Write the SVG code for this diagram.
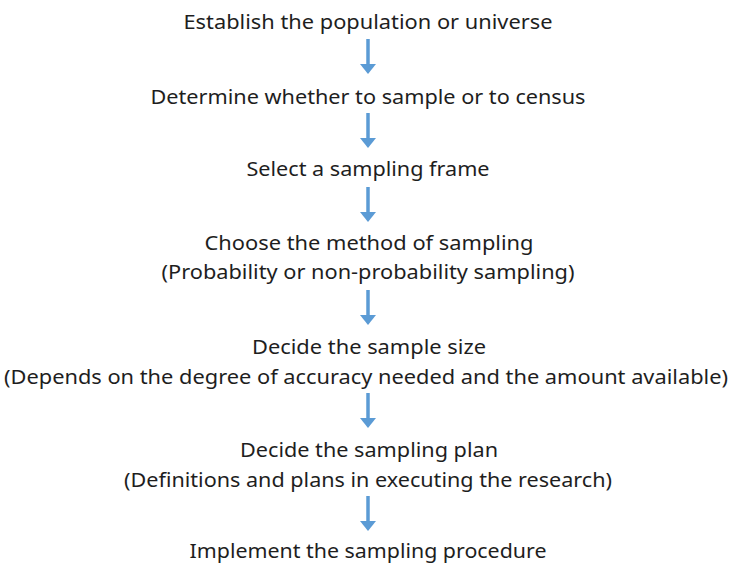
<svg xmlns="http://www.w3.org/2000/svg" width="731" height="564" viewBox="0 0 731 564">
<defs>
<style>
text{font-family:"Noto Sans","Liberation Sans",sans-serif;font-size:20px;fill:#1e1e1e;text-anchor:middle}
.c line{stroke:#5B9BD5;stroke-width:3.5}
.c path{fill:#5B9BD5}
</style>
</defs>
<rect width="731" height="564" fill="#fff"/>
<g id="n1"><text x="368" y="29" textLength="369" lengthAdjust="spacingAndGlyphs">Establish the population or universe</text></g>
<g id="n2"><text x="368" y="104" textLength="435" lengthAdjust="spacingAndGlyphs">Determine whether to sample or to census</text></g>
<g id="n3"><text x="368" y="176" textLength="243" lengthAdjust="spacingAndGlyphs">Select a sampling frame</text></g>
<g id="n4"><text x="369" y="250" textLength="329" lengthAdjust="spacingAndGlyphs">Choose the method of sampling</text>
<text x="368" y="279" textLength="413" lengthAdjust="spacingAndGlyphs">(Probability or non-probability sampling)</text></g>
<g id="n5"><text x="369" y="354" textLength="234" lengthAdjust="spacingAndGlyphs">Decide the sample size</text>
<text x="366" y="384" textLength="724" lengthAdjust="spacingAndGlyphs">(Depends on the degree of accuracy needed and the amount available)</text></g>
<g id="n6"><text x="369" y="457" textLength="258" lengthAdjust="spacingAndGlyphs">Decide the sampling plan</text>
<text x="368" y="487" textLength="488" lengthAdjust="spacingAndGlyphs">(Definitions and plans in executing the research)</text></g>
<g id="n7"><text x="368" y="558" textLength="357" lengthAdjust="spacingAndGlyphs">Implement the sampling procedure</text></g>
<g id="connectors" class="c">
<line x1="368" y1="39" x2="368" y2="65"/><path d="M360,64 L376,64 L368,74 Z"/>
<line x1="368" y1="113" x2="368" y2="139"/><path d="M360,138 L376,138 L368,148 Z"/>
<line x1="368" y1="187" x2="368" y2="213"/><path d="M360,212 L376,212 L368,222 Z"/>
<line x1="368" y1="290" x2="368" y2="316"/><path d="M360,315 L376,315 L368,325 Z"/>
<line x1="368" y1="393" x2="368" y2="419"/><path d="M360,418 L376,418 L368,428 Z"/>
<line x1="368" y1="496" x2="368" y2="522"/><path d="M360,521 L376,521 L368,531 Z"/>
</g>
</svg>
